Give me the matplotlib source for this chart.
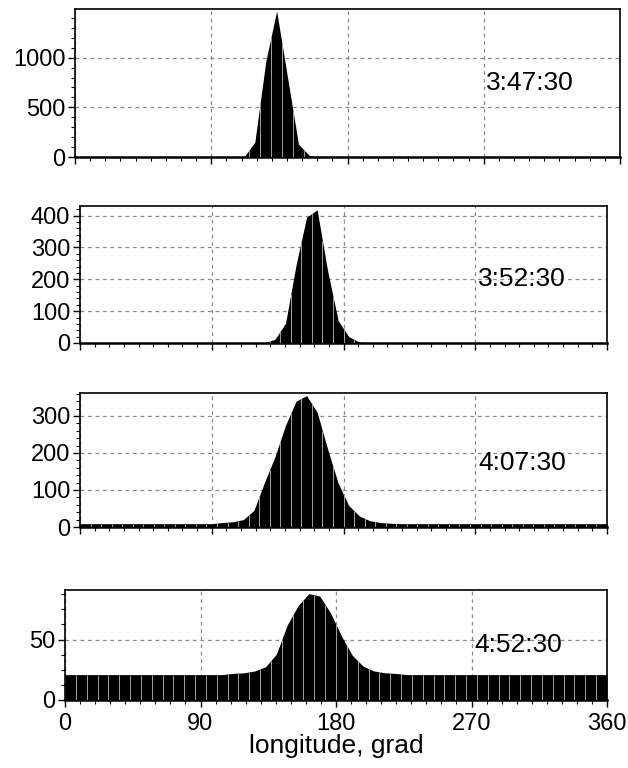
import matplotlib
matplotlib.use('Agg')
import matplotlib.pyplot as plt
from matplotlib.ticker import MultipleLocator
import numpy as np

plt.rcParams['font.family'] = ['Liberation Sans', 'DejaVu Sans']

# 50 longitude bins of 7.2 grad each
bin_width = 7.2
lon = np.arange(50) * bin_width + bin_width / 2

times = ['3:47:30', '3:52:30', '4:07:30', '4:52:30']

counts_0347 = [0, 0, 0, 0, 0, 0, 0, 0, 0, 0,
               0, 0, 0, 0, 0, 0, 150, 960, 1470, 800,
               130, 15, 0, 0, 0, 0, 0, 0, 0, 0,
               0, 0, 0, 0, 0, 0, 0, 0, 0, 0,
               0, 0, 0, 0, 0, 0, 0, 0, 0, 0]

counts_0352 = [0, 0, 0, 0, 0, 0, 0, 0, 0, 0,
               0, 0, 0, 0, 0, 0, 0, 0, 12, 62,
               245, 395, 418, 225, 70, 20, 3, 0, 0, 0,
               0, 0, 0, 0, 0, 0, 0, 0, 0, 0,
               0, 0, 0, 0, 0, 0, 0, 0, 0, 0]

counts_0407 = [9, 9, 9, 9, 9, 9, 9, 9, 9, 9,
               9, 9, 9, 12, 14, 20, 45, 120, 190, 275,
               340, 355, 310, 210, 118, 58, 30, 17, 12, 10,
               9, 9, 9, 9, 9, 9, 9, 9, 9, 9,
               9, 9, 9, 9, 9, 9, 9, 9, 9, 9]

counts_0452 = [21, 21, 21, 21, 21, 21, 21, 21, 21, 21,
               21, 21, 21, 21, 21, 22, 22.5, 24, 27.5, 38,
               62, 78, 88, 86, 72, 53, 37, 28, 24, 22.5,
               22, 21, 21, 21, 21, 21, 21, 21, 21, 21,
               21, 21, 21, 21, 21, 21, 21, 21, 21, 21]

series = [counts_0347, counts_0352, counts_0407, counts_0452]
ylims = [1490, 430, 362, 91]
yticks = [[0, 500, 1000], [0, 100, 200, 300, 400], [0, 100, 200, 300], [0, 50]]
yminor = [100, 20, 20, 12.5]
label_y = [0.5, 0.47, 0.48, 0.5]

# axes boxes in pixels: left, top, right, bottom
W, H = 628, 768
boxes = [(75, 9, 620, 157), (80, 206, 607, 343), (80, 393, 607, 527), (65, 590, 607, 700)]

fig = plt.figure(figsize=(W / 100, H / 100), dpi=100)

for i, (vals, box) in enumerate(zip(series, boxes)):
    l, t, r, b = box
    ax = fig.add_axes([l / W, 1 - b / H, (r - l) / W, (b - t) / H])
    vals = np.asarray(vals, dtype=float)

    # filled histogram outline
    xs = np.concatenate([[0], lon, [360]])
    ys = np.concatenate([[vals[0]], vals, [vals[-1]]])
    ax.fill_between(xs, 0, ys, color='black', linewidth=0, zorder=2)

    # thin light gaps between bins
    edges = np.arange(1, 50) * bin_width
    ax.vlines(edges, 0, np.interp(edges, lon, vals), color='#a0a0a0', linewidth=0.7, zorder=3)

    ax.set_xlim(0, 360)
    ax.set_ylim(0, ylims[i])
    ax.set_xticks([0, 90, 180, 270, 360])
    ax.xaxis.set_minor_locator(MultipleLocator(10))
    ax.set_yticks(yticks[i])
    ax.yaxis.set_minor_locator(MultipleLocator(yminor[i]))

    ax.grid(True, which='major', color='#8a8a8a', linestyle=(0, (3, 3)), linewidth=0.9)
    ax.set_axisbelow(True)

    ax.tick_params(which='major', direction='out', length=5, width=1, labelsize=17, pad=2)
    ax.tick_params(axis='x', which='major', pad=4)
    ax.tick_params(which='minor', direction='out', length=3, width=0.8)
    for s in ax.spines.values():
        s.set_linewidth(1.2)
    ax.spines['bottom'].set_linewidth(1.8)

    if i < 3:
        ax.set_xticklabels([])
    else:
        ax.set_xlabel('longitude, grad', fontsize=19, labelpad=0)

    ax.text(0.755, label_y[i], times[i], transform=ax.transAxes, fontsize=19,
            ha='left', va='center', zorder=5)

plt.savefig('out.png', dpi=100, facecolor='white')
plt.close()
